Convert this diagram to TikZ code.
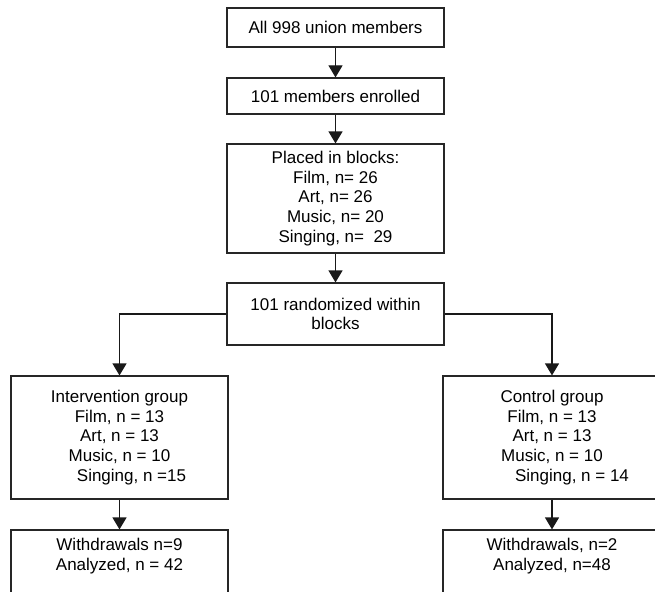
\documentclass[tikz,border=0pt]{standalone}
\usepackage{fontspec}
\setmainfont{Liberation Sans}
\usetikzlibrary{arrows.meta}
\begin{document}
\begin{tikzpicture}[x=1pt,y=-1pt,
  box/.style={draw=black!85, line width=1.2pt, rectangle, align=center,
    font=\fontsize{17}{19.6}\selectfont, inner sep=0pt},
  txt/.style={align=center, font=\fontsize{17}{19.6}\selectfont, inner sep=0pt},
  arr/.style={draw=black!90, line width=1.2pt, -{Triangle[width=14pt,length=12pt]}}]
\useasboundingbox (0,0) rectangle (655,591);
\clip (0,0) rectangle (655,591);
\fill[white] (0,0) rectangle (655,591);
\node[box, minimum width=217pt, minimum height=39pt] (b1) at (335.5,27.5) {All 998 union members};
\node[box, minimum width=217pt, minimum height=36pt] (b2) at (335.5,96) {101 members enrolled};
\node[box, minimum width=217pt, minimum height=109pt] (b3) at (335.5,198.5)
  {Placed in blocks:\\Film, n= 26\\Art, n= 26\\Music, n= 20\\Singing, n=\ \ 29};
\node[box, minimum width=217pt, minimum height=62pt] (b4) at (335.5,314)
  {101 randomized within\\blocks};
\node[box, minimum width=217pt, minimum height=123pt] (b5) at (119.5,437.5)
  {Intervention group\\Film, n = 13\\Art, n = 13\\Music, n = 10\\\hspace*{24pt}Singing, n =15};
\node[box, minimum width=218pt, minimum height=123pt] (b7) at (552,437.5)
  {Control group\\Film, n = 13\\Art, n = 13\\Music, n = 10\\\hspace*{40pt}Singing, n = 14};
\node[box, minimum width=217pt, minimum height=90pt] (b6) at (119.5,575) {};
\node[box, minimum width=218pt, minimum height=90pt] (b8) at (552,575) {};
\node[txt, anchor=north] (t6) at ([yshift=-9pt]b6.north) {Withdrawals n=9\\Analyzed, n = 42};
\node[txt, anchor=north] (t8) at ([yshift=-9pt]b8.north) {Withdrawals, n=2\\Analyzed, n=48};
\draw[arr] (b1.south) -- (b2.north);
\draw[arr] (b2.south) -- (b3.north);
\draw[arr] (b3.south) -- (b4.north);
\draw[arr] (b4.west) -| (b5.north);
\draw[arr] (b4.east) -| (b7.north);
\draw[arr] (b5.south) -- (b6.north);
\draw[arr] (b7.south) -- (b8.north);
\end{tikzpicture}
\end{document}
